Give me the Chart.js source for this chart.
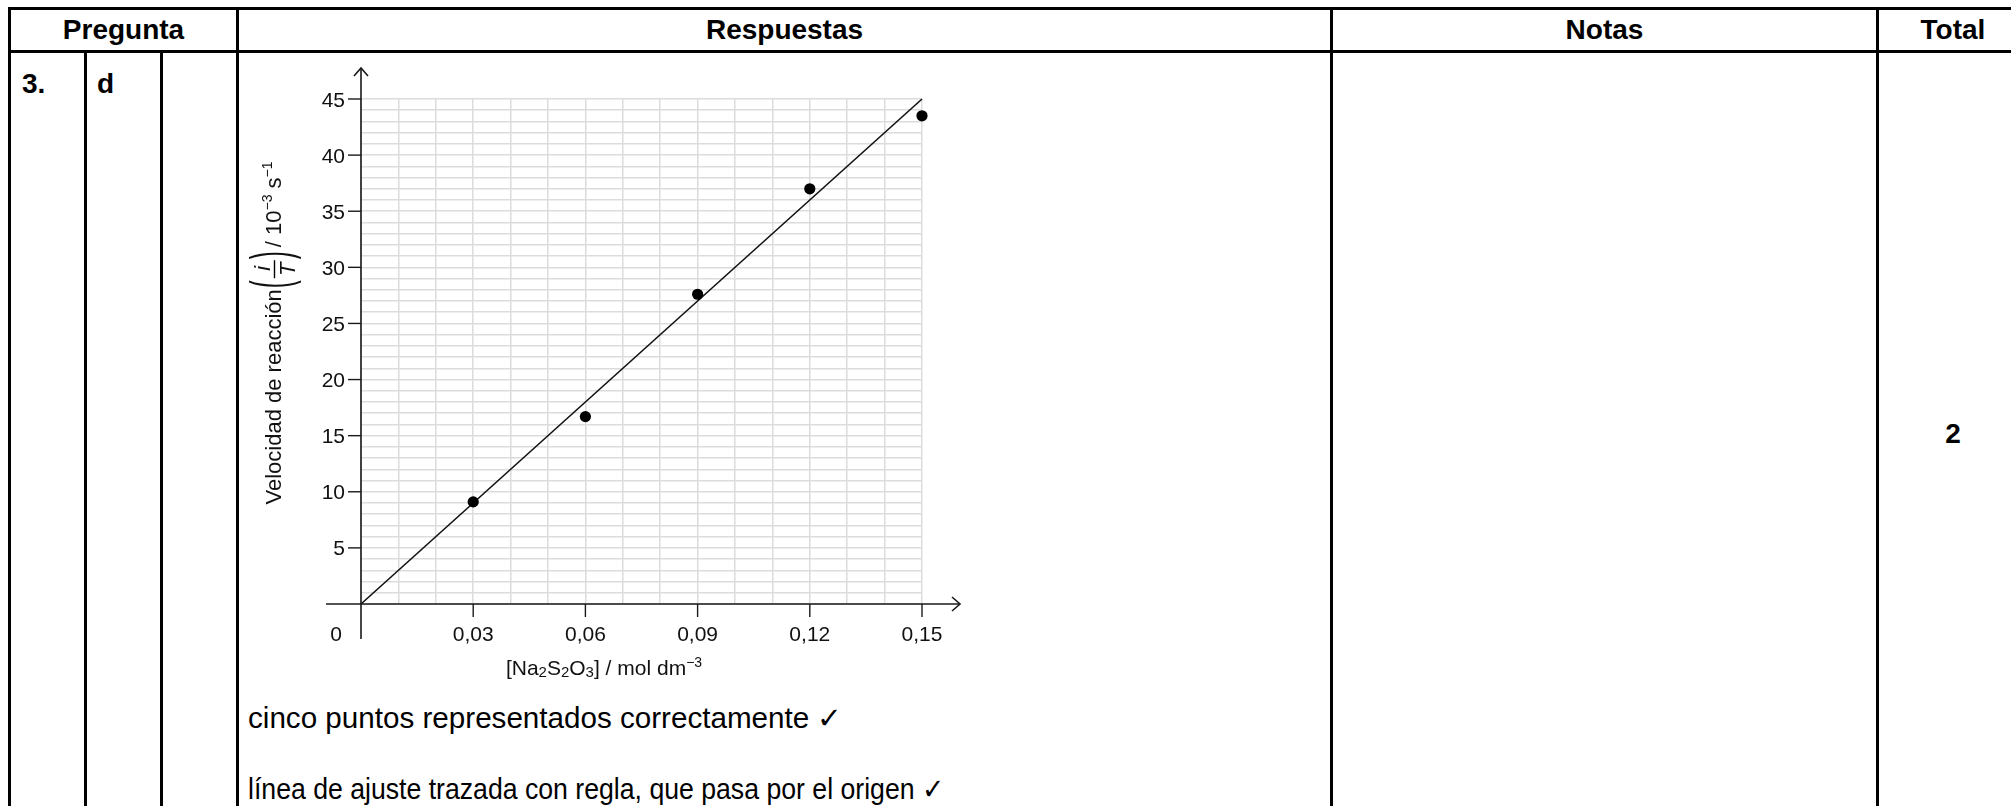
<!DOCTYPE html>
<html>
<head>
<meta charset="utf-8">
<script src="https://cdn.jsdelivr.net/npm/chart.js@4.4.1/dist/chart.umd.min.js"></script>
<style>
html,body{margin:0;padding:0;background:#fff;}
body{width:2011px;height:806px;position:relative;overflow:hidden;font-family:"Liberation Sans",Arial,sans-serif;color:#000;}
.ln{position:absolute;background:#000;}
.tx{position:absolute;white-space:nowrap;font-size:28px;line-height:28px;}
.b{font-weight:bold;}
.c{text-align:center;}
.body{font-size:29px;line-height:29px;transform-origin:0 50%;}
</style>
</head>
<body>
<!-- table rules -->
<div class="ln" style="left:8px;top:7px;width:2003px;height:3px;"></div>
<div class="ln" style="left:8px;top:50px;width:2003px;height:3px;"></div>
<div class="ln" style="left:8px;top:7px;width:3px;height:799px;"></div>
<div class="ln" style="left:84px;top:50px;width:3px;height:756px;"></div>
<div class="ln" style="left:160px;top:50px;width:3px;height:756px;"></div>
<div class="ln" style="left:236px;top:7px;width:3px;height:799px;"></div>
<div class="ln" style="left:1330px;top:7px;width:3px;height:799px;"></div>
<div class="ln" style="left:1876px;top:7px;width:3px;height:799px;"></div>

<!-- header texts -->
<div class="tx b c" style="left:10px;width:227px;top:16px;">Pregunta</div>
<div class="tx b c" style="left:238px;width:1093px;top:16px;">Respuestas</div>
<div class="tx b c" style="left:1332px;width:545px;top:16px;">Notas</div>
<div class="tx b c" style="left:1878px;width:150px;top:16px;">Total</div>

<div class="tx b" style="left:22px;top:70px;">3.</div>
<div class="tx b" style="left:97px;top:70px;">d</div>
<div class="tx b c" style="left:1878px;width:150px;top:420px;">2</div>

<div class="tx body" id="l1" data-w="594" style="left:248px;top:704px;">cinco puntos representados correctamente ✓</div>
<div class="tx body" id="l2" data-w="696" style="left:248px;top:775px;">línea de ajuste trazada con regla, que pasa por el origen ✓</div>

<canvas id="c" width="1088" height="750" style="position:absolute;left:240px;top:55px;width:1088px;height:750px;"></canvas>

<script>
// ---- data ----
const concentrations = [0.03, 0.06, 0.09, 0.12, 0.15];
const rates = [9.1, 16.7, 27.6, 37.0, 43.5];
const fitLineX = [0, 0.15];
const fitLineY = [0, 45];
const xTickValues = [0, 0.03, 0.06, 0.09, 0.12, 0.15];
const xTickLabels = ['0', '0,03', '0,06', '0,09', '0,12', '0,15'];
const yTickValues = [5, 10, 15, 20, 25, 30, 35, 40, 45];
const yTickLabels = ['5', '10', '15', '20', '25', '30', '35', '40', '45'];
const xGridValues = [0, 0.01, 0.02, 0.03, 0.04, 0.05, 0.06, 0.07, 0.08, 0.09, 0.10, 0.11, 0.12, 0.13, 0.14, 0.15];
const yGridValues = [];
for (let v = 0; v <= 45; v++) yGridValues.push(v);
const xAxisMin = 0, xAxisMax = 0.15, yAxisMin = 0, yAxisMax = 45;

// fit the two answer lines to their widths in the reference
['l1', 'l2'].forEach(id => {
  const el = document.getElementById(id);
  const w = el.getBoundingClientRect().width;
  const target = parseFloat(el.dataset.w);
  if (w > 0) el.style.transform = 'scaleX(' + (target / w).toFixed(4) + ')';
});

const FONT = '"Liberation Sans", Arial, sans-serif';
const fnt = (s, style) => (style ? style + ' ' : '') + s + 'px ' + FONT;
const AX = '#1a1a1a';

function runWidth(ctx, r) {
  if (r.gap) return r.gap;
  if (r.draw) return r.width(ctx);
  ctx.font = r.font;
  return ctx.measureText(r.text).width;
}
function drawRuns(ctx, runs, x, y) {
  let cx = x;
  runs.forEach(r => {
    if (r.gap) { cx += r.gap; return; }
    if (r.draw) { r.draw(ctx, cx, y); cx += r.width(ctx); return; }
    ctx.font = r.font;
    ctx.fillText(r.text, cx, y + (r.dy || 0));
    cx += ctx.measureText(r.text).width;
  });
}
function totalWidth(ctx, runs) { return runs.reduce((a, r) => a + runWidth(ctx, r), 0); }

function parenRun(ch) {
  return {
    draw: (ctx, x, y) => {
      ctx.save();
      ctx.font = fnt(24);
      const m = ctx.measureText(ch);
      const off = (m.actualBoundingBoxAscent - m.actualBoundingBoxDescent) / 2;
      ctx.translate(x, y - 6);
      ctx.scale(1, 2.35);
      ctx.textBaseline = 'alphabetic';
      ctx.fillText(ch, 0, off);
      ctx.restore();
    },
    width: (ctx) => { ctx.font = fnt(24); return ctx.measureText(ch).width + 1; }
  };
}
const fracRun = {
  draw: (ctx, x, y) => {
    ctx.save();
    ctx.font = fnt(22, 'italic');
    const w = 20;
    const wi = ctx.measureText('i').width, wt = ctx.measureText('T').width;
    ctx.fillText('i', x + (w - wi) / 2 + 1, y - 11);
    ctx.fillText('T', x + (w - wt) / 2, y + 14);
    ctx.strokeStyle = '#000';
    ctx.lineWidth = 1.4;
    ctx.beginPath();
    ctx.moveTo(x + 1, y - 6.5);
    ctx.lineTo(x + w - 1, y - 6.5);
    ctx.stroke();
    ctx.restore();
  },
  width: () => 20
};

const axesPlugin = {
  id: 'axesPlugin',
  afterDraw(chart) {
    const ctx = chart.ctx;
    const xs = chart.scales.x, ys = chart.scales.y;
    const x0 = xs.getPixelForValue(xAxisMin), y0 = ys.getPixelForValue(yAxisMin);
    const xE = xs.getPixelForValue(xAxisMax), yT = ys.getPixelForValue(yAxisMax);
    ctx.save();
    ctx.strokeStyle = AX; ctx.fillStyle = AX; ctx.lineWidth = 1.6;
    // x axis with arrow
    const xTip = xE + 38;
    ctx.beginPath(); ctx.moveTo(x0 - 35, y0); ctx.lineTo(xTip, y0); ctx.stroke();
    ctx.beginPath(); ctx.moveTo(xTip - 8, y0 - 7); ctx.lineTo(xTip, y0); ctx.lineTo(xTip - 8, y0 + 7); ctx.stroke();
    // y axis with arrow
    const yTip = yT - 31;
    ctx.beginPath(); ctx.moveTo(x0, y0 + 35); ctx.lineTo(x0, yTip); ctx.stroke();
    ctx.beginPath(); ctx.moveTo(x0 - 7, yTip + 8); ctx.lineTo(x0, yTip); ctx.lineTo(x0 + 7, yTip + 8); ctx.stroke();
    // ticks
    ctx.lineWidth = 1.4;
    xTickValues.forEach(v => {
      if (v === 0) return;
      const p = xs.getPixelForValue(v);
      ctx.beginPath(); ctx.moveTo(p, y0); ctx.lineTo(p, y0 + 13); ctx.stroke();
    });
    yTickValues.forEach(v => {
      const p = ys.getPixelForValue(v);
      ctx.beginPath(); ctx.moveTo(x0 - 13, p); ctx.lineTo(x0, p); ctx.stroke();
    });
    // tick labels
    ctx.fillStyle = '#111';
    ctx.font = fnt(21);
    ctx.textAlign = 'center'; ctx.textBaseline = 'alphabetic';
    xTickValues.forEach((v, i) => {
      const p = v === 0 ? x0 - 25 : xs.getPixelForValue(v);
      ctx.fillText(xTickLabels[i], p, y0 + 37);
    });
    ctx.textAlign = 'right';
    yTickValues.forEach((v, i) => {
      const p = ys.getPixelForValue(v);
      ctx.fillText(yTickLabels[i], x0 - 16, p + 7.5);
    });
    // x axis title
    ctx.textAlign = 'left';
    const xRuns = [
      {text: '[Na', font: fnt(21)}, {text: '2', font: fnt(15), dy: 2},
      {text: 'S', font: fnt(21)}, {text: '2', font: fnt(15), dy: 2},
      {text: 'O', font: fnt(21)}, {text: '3', font: fnt(15), dy: 2},
      {text: '] / mol dm', font: fnt(21)}, {text: '−3', font: fnt(14), dy: -8}
    ];
    const xw = totalWidth(ctx, xRuns);
    drawRuns(ctx, xRuns, x0 + 243 - xw / 2, y0 + 71);
    // y axis title (rotated)
    const yRuns = [
      {text: 'Velocidad de reacción', font: fnt(22)}, {gap: 1},
      parenRun('('), fracRun, parenRun(')'), {gap: 3},
      {text: '/ 10', font: fnt(22)}, {text: '−3', font: fnt(14), dy: -9},
      {text: ' s', font: fnt(22)}, {text: '−1', font: fnt(14), dy: -9}
    ];
    const yw = totalWidth(ctx, yRuns);
    ctx.save();
    ctx.translate(x0 - 80, y0 - 271 + yw / 2);
    ctx.rotate(-Math.PI / 2);
    drawRuns(ctx, yRuns, 0, 0);
    ctx.restore();
    ctx.restore();
  }
};

new Chart(document.getElementById('c'), {
  type: 'scatter',
  data: {
    datasets: [
      {
        label: 'datos',
        data: concentrations.map((c, i) => ({x: c, y: rates[i]})),
        pointRadius: 5.6,
        pointBackgroundColor: '#000',
        pointBorderColor: '#000',
        pointBorderWidth: 0,
        clip: false,
        order: 0
      },
      {
        label: 'ajuste',
        type: 'line',
        data: fitLineX.map((x, i) => ({x: x, y: fitLineY[i]})),
        borderColor: '#111',
        borderWidth: 1.6,
        pointRadius: 0,
        fill: false,
        showLine: true,
        clip: false,
        order: 1
      }
    ]
  },
  options: {
    responsive: false,
    animation: false,
    devicePixelRatio: 1,
    layout: {padding: {left: 121, top: 44, right: 406, bottom: 201}},
    plugins: {legend: {display: false}, tooltip: {enabled: false}},
    scales: {
      x: {
        type: 'linear', min: xAxisMin, max: xAxisMax,
        border: {display: false},
        grid: {color: '#dcdcdc', lineWidth: 1.5, drawTicks: false},
        ticks: {display: false},
        afterBuildTicks: s => { s.ticks = xGridValues.map(v => ({value: v})); },
        afterFit: s => { s.height = 0; }
      },
      y: {
        type: 'linear', min: yAxisMin, max: yAxisMax,
        border: {display: false},
        grid: {color: '#dcdcdc', lineWidth: 1.5, drawTicks: false},
        ticks: {display: false},
        afterBuildTicks: s => { s.ticks = yGridValues.map(v => ({value: v})); },
        afterFit: s => { s.width = 0; }
      }
    }
  },
  plugins: [axesPlugin]
});
</script>
</body>
</html>
